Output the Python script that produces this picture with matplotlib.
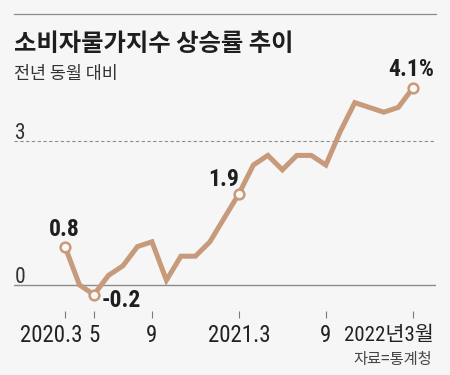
import matplotlib.pyplot as plt
from matplotlib.lines import Line2D
from matplotlib import font_manager

# 소비자물가지수 상승률 (전년 동월 대비, %)
months = ['2020.3', '4', '5', '6', '7', '8', '9', '10', '11', '12',
          '2021.1', '2', '3', '4', '5', '6', '7', '8', '9', '10', '11', '12',
          '2022.1', '2', '3']
values = [0.8, 0.0, -0.2, 0.2, 0.4, 0.8, 0.9, 0.1, 0.6, 0.6,
          0.9, 1.4, 1.9, 2.5, 2.7, 2.4, 2.7, 2.7, 2.5, 3.2, 3.8, 3.7,
          3.6, 3.7, 4.1]
tick_idx = [0, 2, 6, 12, 18, 24]
tick_labels = ['2020.3', '5', '9', '2021.3', '9', '2022년3월']
marked_idx = [0, 2, 12, 24]
marked_labels = ['0.8', '-0.2', '1.9', '4.1%']
y_labels = [0, 3]

# look for a narrow face for the numbers
names = {f.name for f in font_manager.fontManager.ttflist}
narrow = [n for n in names if 'Narrow' in n or 'Condensed' in n]
narrow.sort(key=lambda n: ('Liberation' not in n, 'Roboto' not in n, n))
KR = ['Noto Sans CJK KR', 'DejaVu Sans']
NUM = narrow[:1] + ['Liberation Sans', 'Noto Sans CJK KR']
cond_stretch = 'condensed'

BG = '#f6f6f6'
LINE = '#c69a7b'
W, H = 450, 375
PT = 0.72  # px -> pt at 100 dpi

fig = plt.figure(figsize=(4.5, 3.75), dpi=100, facecolor=BG)

# axes placed in pixels: x from 14 to 436, y from 50 (top) to 311 (bottom)
ax = fig.add_axes([14 / W, (H - 311) / H, 422 / W, 261 / H])
ax.set_facecolor(BG)
x = list(range(len(values)))
step = 14.49
ax.set_xlim(-51 / step, (436 - 65) / step)
ax.set_ylim(-26 / 48, 235 / 48)
for s in ax.spines.values():
    s.set_visible(False)

ax.axhline(0, color='#8c8c8c', lw=1.0, zorder=1)
ax.axhline(3, color='#8c8c8c', lw=0.8, ls=(0, (3, 2.2)), zorder=1)

ax.plot(x, values, color=LINE, lw=3.6, solid_joinstyle='miter', zorder=3)
ax.plot([x[i] for i in marked_idx], [values[i] for i in marked_idx], 'o',
        ms=7, mfc='#fbf7f3', mec=LINE, mew=1.8, zorder=4, clip_on=False)

# y labels above the reference lines
for v in y_labels:
    ax.annotate(str(v), xy=(0, v), xycoords=('axes fraction', 'data'),
                xytext=(1 * PT, 2 * PT), textcoords='offset points',
                ha='left', va='baseline', fontsize=15.5, color='#333333',
                family=NUM, stretch=cond_stretch)

# value labels near the marked points
offsets = {0: (-1, 11, 'center'), 2: (8, -12, 'left'),
           12: (0, 8, 'right'), 24: (-2, 12, 'center')}
for i, lab in zip(marked_idx, marked_labels):
    dx, dy, ha = offsets[i]
    ax.annotate(lab, xy=(x[i], values[i]), xytext=(dx * PT, dy * PT),
                textcoords='offset points', ha=ha, va='baseline',
                fontsize=17, fontweight='bold', color='#1e1e1e', family=NUM,
                stretch=cond_stretch)

# x ticks and labels
ax.set_xticks(tick_idx)
ax.set_xticklabels([])
ax.set_yticks([])
ax.tick_params(axis='x', length=5, width=0.8, color='#7a7a7a', direction='out')
shift = {0: -13.3, 24: -24}
for i, lab in zip(tick_idx, tick_labels):
    ax.annotate(lab, xy=(i, 0), xycoords=('data', 'axes fraction'),
                xytext=(shift.get(i, 0) * PT, -30.5 * PT), textcoords='offset points',
                ha='center', va='baseline', fontsize=16.5 if i != 24 else 15,
                color='#222222', family=NUM + KR, stretch=cond_stretch)

# header
fig.add_artist(Line2D([14 / W, 436 / W], [1 - 14 / H, 1 - 14 / H],
                      color='#8c8c8c', lw=0.9))
fig.text(14 / W, 1 - 51 / H, '소비자물가지수 상승률 추이', fontsize=17.5,
         fontweight='heavy', color='#1e1e1e', family=KR, va='baseline')
fig.text(14 / W, 1 - 79 / H, '전년 동월 대비', fontsize=12.5,
         color='#333333', family=KR, va='baseline')
fig.text(432 / W, 1 - 364 / H, '자료=통계청', fontsize=11,
         color='#444444', family=KR, ha='right', va='baseline')

fig.savefig('out.png', dpi=100, facecolor=BG)
